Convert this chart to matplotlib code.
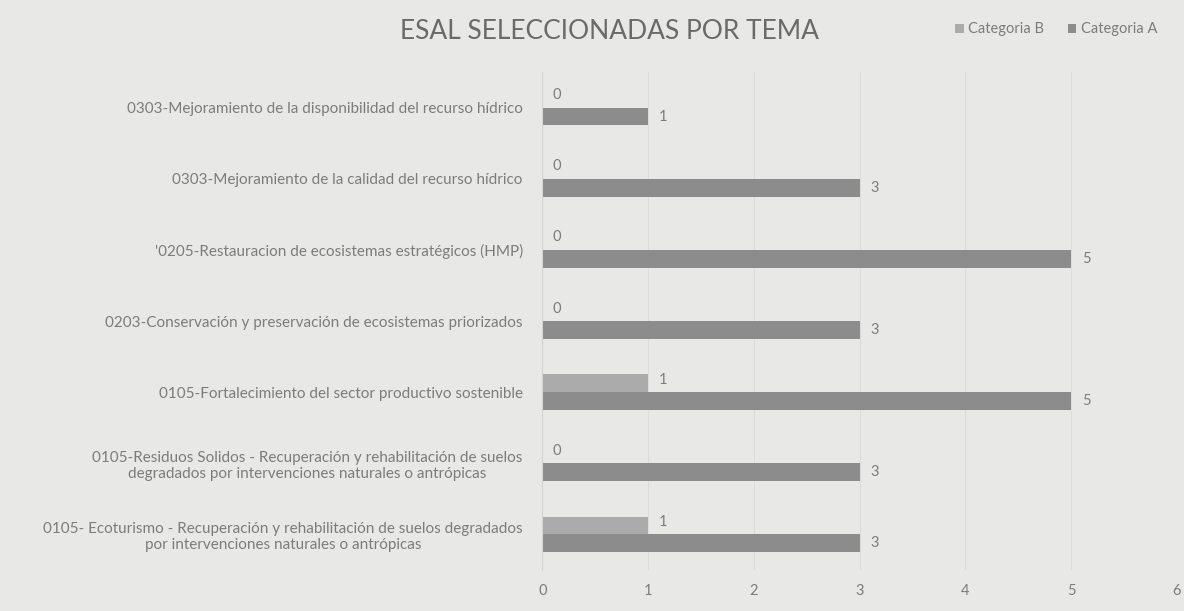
import numpy as np
import matplotlib.pyplot as plt

plt.rcParams['font.family'] = ['Lato', 'DejaVu Sans']

# temas (de arriba hacia abajo)
temas = [
    '0303-Mejoramiento de la disponibilidad del recurso hídrico',
    '0303-Mejoramiento de la calidad del recurso hídrico',
    "'0205-Restauracion de ecosistemas estratégicos (HMP)",
    '0203-Conservación y preservación de ecosistemas priorizados',
    '0105-Fortalecimiento del sector productivo sostenible',
    '0105-Residuos Solidos - Recuperación y rehabilitación de suelos\ndegradados por intervenciones naturales o antrópicas',
    '0105- Ecoturismo - Recuperación y rehabilitación de suelos degradados\npor intervenciones naturales o antrópicas',
]
categoria_a = [1, 3, 5, 3, 5, 3, 3]
categoria_b = [0, 0, 0, 0, 1, 0, 1]
xticks = [0, 1, 2, 3, 4, 5, 6]

bg = '#e8e8e6'
txt = '#7c7c7c'
col_a = '#8c8c8c'
col_b = '#ababab'

fig = plt.figure(figsize=(11.84, 6.11), dpi=100, facecolor=bg)
ax = fig.add_axes([0.458, 0.067, 0.536, 0.815], facecolor=bg)

n = len(temas)
y = np.arange(n)[::-1]
h = 0.25
bars_a = ax.barh(y - h / 2, categoria_a, height=h, color=col_a, label='Categoria A', zorder=2)
bars_b = ax.barh(y + h / 2, categoria_b, height=h, color=col_b, label='Categoria B', zorder=2)

# etiquetas de valor
for yy, v in zip(y, categoria_a):
    ax.text(v + 0.1, yy - h / 2, str(v), va='center', ha='left', fontsize=10.5, color=txt)
for yy, v in zip(y, categoria_b):
    ax.text(v + 0.1, yy + h / 2 + 0.05, str(v), va='center', ha='left', fontsize=10.5, color=txt)

ax.set_xlim(0, 6)
ax.set_ylim(-0.5, n - 0.5)
ax.set_xticks(xticks)
ax.set_yticks(y)
ax.set_yticklabels(temas, fontsize=11, color=txt, multialignment='center')
ax.tick_params(axis='x', colors=txt, labelsize=10.5, length=0, pad=10)
ax.tick_params(axis='y', length=0, pad=14)
ax.grid(axis='x', color='#dcdcda', linewidth=0.8, zorder=0)
for s in ['top', 'right', 'bottom']:
    ax.spines[s].set_visible(False)
ax.spines['left'].set_color('#d4d4d2')

fig.text(0.515, 0.948, 'ESAL SELECCIONADAS POR TEMA', ha='center', va='center',
         fontsize=19, color='#6a6a6a')

handles = [bars_b, bars_a]
leg = fig.legend(handles, ['Categoria B', 'Categoria A'], loc='center', bbox_to_anchor=(0.892, 0.952),
                 ncol=2, frameon=False, fontsize=10.5, handlelength=0.6, handleheight=0.6,
                 columnspacing=1.6, handletextpad=0.3)
for t in leg.get_texts():
    t.set_color(txt)

plt.savefig('out.png', dpi=100, facecolor=bg)
